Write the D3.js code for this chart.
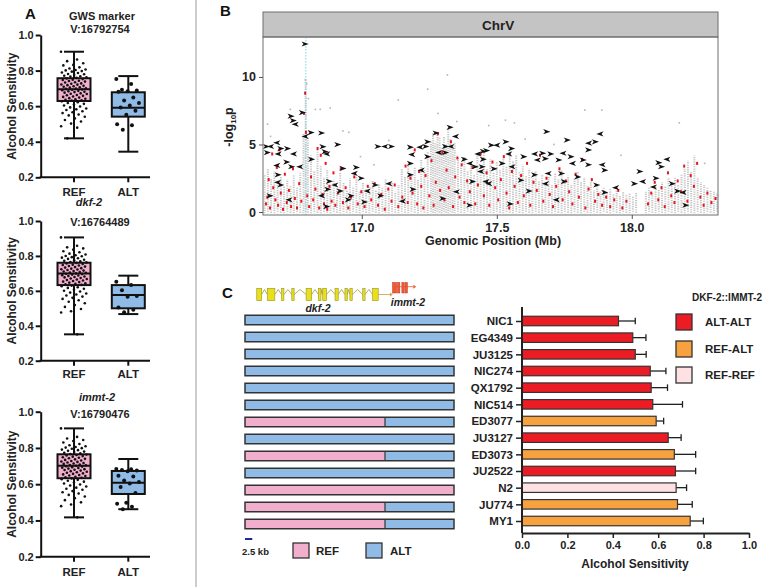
<!DOCTYPE html>
<html>
<head>
<meta charset="utf-8">
<script src="https://cdn.jsdelivr.net/npm/d3@7"></script>
<style>
  body { margin: 0; background: #fff; }
  svg { display: block; font-family: "Liberation Sans", Arial, sans-serif; font-weight: bold; }
</style>
</head>
<body>
<svg id="fig" width="768" height="587"></svg>
<script>
/// ---------- Panel A data ----------
var boxGroups = ["REF", "ALT"];
var boxTicks = [0.2, 0.4, 0.6, 0.8, 1.0];
var boxTitles = [["GWS marker", "V:16792754"], ["dkf-2", "V:16764489"], ["immt-2", "V:16790476"]];
// [min, q1, median, q3, max] for REF and ALT
var gwsStats = [[0.419, 0.629, 0.695, 0.757, 0.906], [0.344, 0.541, 0.591, 0.678, 0.769]];
var dkfStats = [[0.351, 0.633, 0.700, 0.761, 0.906], [0.467, 0.500, 0.576, 0.633, 0.687]];
var immtStats = [[0.417, 0.633, 0.702, 0.765, 0.908], [0.462, 0.546, 0.608, 0.673, 0.739]];

var gwsRef = [0.906, 0.862, 0.853, 0.841, 0.832, 0.829, 0.818, 0.812, 0.806, 0.803, 0.801, 0.797, 0.794, 0.789,
  0.786, 0.781, 0.779, 0.776, 0.771, 0.768, 0.766, 0.762, 0.759, 0.756, 0.752, 0.748, 0.747, 0.743, 0.741,
  0.738, 0.734, 0.733, 0.728, 0.726, 0.722, 0.721, 0.718, 0.714, 0.712, 0.709, 0.706, 0.704, 0.701, 0.699,
  0.697, 0.694, 0.692, 0.69, 0.686, 0.684, 0.681, 0.679, 0.676, 0.672, 0.67, 0.668, 0.663, 0.661, 0.658,
  0.654, 0.652, 0.648, 0.645, 0.642, 0.639, 0.636, 0.633, 0.631, 0.627, 0.622, 0.618, 0.613, 0.609, 0.604,
  0.598, 0.593, 0.587, 0.582, 0.578, 0.571, 0.566, 0.561, 0.553, 0.548, 0.54, 0.531, 0.522, 0.514, 0.502,
  0.487, 0.479, 0.419];
var gwsAlt = [0.752, 0.724, 0.692, 0.688, 0.684, 0.681, 0.648, 0.632, 0.618, 0.604, 0.592, 0.574, 0.552, 0.498, 0.492, 0.468];

var dkfRef = [0.906, 0.858, 0.849, 0.843, 0.836, 0.827, 0.821, 0.813, 0.808, 0.804, 0.8, 0.798, 0.793, 0.79,
  0.787, 0.783, 0.778, 0.775, 0.772, 0.769, 0.765, 0.763, 0.76, 0.757, 0.754, 0.75, 0.748, 0.745, 0.742,
  0.739, 0.736, 0.733, 0.73, 0.727, 0.724, 0.722, 0.719, 0.716, 0.713, 0.711, 0.708, 0.705, 0.703, 0.7,
  0.698, 0.696, 0.693, 0.69, 0.688, 0.685, 0.682, 0.679, 0.677, 0.674, 0.671, 0.668, 0.665, 0.662, 0.659,
  0.656, 0.653, 0.65, 0.647, 0.643, 0.64, 0.637, 0.634, 0.63, 0.626, 0.621, 0.617, 0.612, 0.607, 0.601,
  0.596, 0.59, 0.585, 0.579, 0.573, 0.567, 0.56, 0.554, 0.546, 0.538, 0.529, 0.519, 0.508, 0.496, 0.483,
  0.476, 0.351];
var dkfAlt = [0.652, 0.634, 0.603, 0.571, 0.566, 0.505, 0.492, 0.478];

var immtRef = [0.908, 0.861, 0.852, 0.844, 0.838, 0.83, 0.822, 0.815, 0.809, 0.805, 0.802, 0.799, 0.796, 0.791,
  0.788, 0.784, 0.78, 0.777, 0.773, 0.77, 0.767, 0.764, 0.761, 0.758, 0.755, 0.752, 0.749, 0.746, 0.743,
  0.74, 0.737, 0.734, 0.731, 0.728, 0.725, 0.723, 0.72, 0.717, 0.714, 0.712, 0.709, 0.706, 0.704, 0.702,
  0.699, 0.697, 0.694, 0.691, 0.689, 0.686, 0.683, 0.68, 0.678, 0.675, 0.672, 0.669, 0.666, 0.663, 0.66,
  0.657, 0.654, 0.651, 0.648, 0.645, 0.641, 0.638, 0.635, 0.632, 0.628, 0.624, 0.619, 0.614, 0.609, 0.604,
  0.598, 0.593, 0.587, 0.581, 0.575, 0.569, 0.562, 0.556, 0.549, 0.541, 0.532, 0.523, 0.512, 0.5, 0.488,
  0.479, 0.417];
var immtAlt = [0.684, 0.682, 0.678, 0.675, 0.672, 0.646, 0.642, 0.62, 0.612, 0.604, 0.584, 0.552, 0.498, 0.492, 0.476, 0.462];

/// ---------- Panel B data (position Mb, -log10p) ----------
var bTicksX = [17.0, 17.5, 18.0];
var bTicksY = [0, 5, 10];
var peakMarker = 16.7928;
// grey variant columns: [position, highest -log10p in the column]
var greyCols = [[16.640, 2.8], [16.652, 3.2], [16.664, 2.5], [16.676, 3.0], [16.688, 2.2], [16.700, 2.6], [16.712, 1.9],
  [16.724, 2.4], [16.736, 2.0], [16.748, 2.7], [16.760, 1.8], [16.772, 2.9], [16.784, 5.8], [16.792, 9.8], [16.800, 5.5],
  [16.812, 4.2], [16.824, 3.0], [16.836, 4.6], [16.848, 3.4], [16.860, 2.6], [16.872, 3.1], [16.884, 2.0], [16.896, 2.4],
  [16.908, 1.8], [16.920, 2.9], [16.932, 2.2], [16.944, 1.6], [16.956, 2.5], [16.968, 1.9], [16.980, 2.6], [16.992, 1.5],
  [17.004, 2.2], [17.016, 1.7], [17.028, 1.9], [17.040, 2.3], [17.052, 1.6], [17.064, 2.1], [17.076, 1.8], [17.088, 2.4],
  [17.100, 1.7], [17.112, 2.2], [17.124, 1.5], [17.136, 2.0], [17.148, 3.2], [17.160, 2.6], [17.172, 3.6], [17.184, 2.8],
  [17.196, 3.3], [17.208, 2.4], [17.220, 3.9], [17.232, 3.1], [17.244, 4.5], [17.256, 5.3], [17.264, 5.9], [17.272, 5.2],
  [17.280, 6.0], [17.288, 5.5], [17.296, 4.8], [17.304, 5.6], [17.312, 5.0], [17.320, 6.2], [17.328, 5.4], [17.336, 4.7],
  [17.344, 5.1], [17.356, 4.0], [17.368, 3.4], [17.380, 4.1], [17.392, 3.0], [17.404, 3.6], [17.416, 2.8], [17.428, 4.2],
  [17.440, 3.5], [17.452, 4.4], [17.464, 3.2], [17.476, 3.9], [17.488, 2.9], [17.500, 3.7], [17.512, 3.1], [17.524, 4.0],
  [17.536, 3.4], [17.548, 4.6], [17.560, 3.8], [17.572, 4.2], [17.584, 3.0], [17.596, 3.5], [17.608, 2.7], [17.620, 3.2],
  [17.632, 2.5], [17.644, 3.0], [17.656, 2.3], [17.668, 2.8], [17.680, 2.1], [17.692, 2.6], [17.704, 2.0], [17.716, 2.9],
  [17.728, 2.4], [17.740, 3.1], [17.752, 2.2], [17.764, 2.7], [17.776, 2.0], [17.788, 2.5], [17.800, 3.0], [17.812, 2.2],
  [17.824, 2.6], [17.836, 1.9], [17.848, 2.3], [17.860, 1.6], [17.872, 2.0], [17.884, 1.5], [17.896, 1.8], [17.908, 1.4],
  [17.920, 1.7], [17.932, 1.3], [17.944, 1.6], [17.956, 1.2], [17.968, 1.5], [17.980, 1.3], [17.992, 1.4], [18.004, 1.2],
  [18.016, 1.4], [18.052, 1.5], [18.064, 1.8], [18.076, 1.4], [18.088, 2.0], [18.100, 1.7], [18.112, 2.2], [18.124, 1.9],
  [18.136, 2.5], [18.148, 2.1], [18.160, 2.6], [18.172, 2.0], [18.184, 2.8], [18.196, 3.2], [18.208, 3.8], [18.220, 3.0],
  [18.232, 4.2], [18.244, 2.6], [18.256, 2.2], [18.268, 2.0], [18.280, 1.8], [18.292, 1.6], [18.304, 1.5], [18.316, 1.4]];
var greyPts = [[16.651, 6.5], [16.662, 5.6], [16.735, 7.6], [16.762, 6.4], [16.791, 9.8], [16.796, 9.5], [16.802, 8.4],
  [16.828, 7.6], [16.846, 7.6], [16.883, 7.7], [16.930, 6.0], [16.952, 5.9], [17.100, 5.3], [17.135, 8.3], [17.244, 9.1],
  [17.317, 10.15], [17.282, 7.3], [17.352, 6.7], [17.470, 6.4], [17.532, 6.8], [17.565, 6.6], [17.826, 7.55],
  [17.889, 7.55], [18.176, 6.6], [17.605, 5.4], [17.712, 5.0], [17.960, 4.2], [18.270, 3.6], [16.995, 4.1], [17.045, 3.5]];
var redPts = [[16.645, 0.6], [16.650, 1.1], [16.655, 2.4], [16.660, 0.3], [16.668, 4.3], [16.672, 1.8], [16.680, 0.9],
  [16.685, 3.3], [16.690, 0.5], [16.695, 4.6], [16.700, 1.4], [16.708, 0.2], [16.715, 2.8], [16.722, 0.7], [16.730, 1.6],
  [16.738, 0.4], [16.745, 3.2], [16.752, 1.0], [16.760, 0.3], [16.768, 2.1], [16.776, 0.8], [16.786, 7.3], [16.790, 8.8],
  [16.793, 5.9], [16.798, 1.2], [16.805, 0.4], [16.812, 2.6], [16.820, 0.9], [16.828, 1.7], [16.836, 4.7], [16.842, 0.3],
  [16.848, 4.2], [16.854, 1.3], [16.860, 0.6], [16.866, 3.6], [16.872, 0.2], [16.880, 1.9], [16.888, 0.8], [16.895, 2.9],
  [16.902, 0.5], [16.912, 1.4], [16.922, 3.2], [16.930, 0.7], [16.940, 1.8], [16.950, 0.3], [16.960, 1.1], [16.972, 2.6],
  [16.985, 0.6], [16.998, 1.5], [17.010, 0.4], [17.022, 1.9], [17.035, 0.9], [17.048, 2.1], [17.060, 0.5], [17.072, 1.3],
  [17.085, 0.2], [17.098, 1.7], [17.110, 0.8], [17.122, 2.0], [17.135, 0.4], [17.150, 1.1], [17.162, 3.4], [17.170, 0.7],
  [17.180, 2.5], [17.188, 1.4], [17.196, 4.6], [17.205, 0.6], [17.212, 3.0], [17.220, 1.9], [17.228, 0.3], [17.236, 2.7],
  [17.250, 1.2], [17.258, 3.8], [17.266, 0.5], [17.274, 2.2], [17.282, 5.8], [17.290, 1.6], [17.298, 4.4], [17.306, 0.9],
  [17.314, 3.1], [17.322, 1.8], [17.330, 5.2], [17.338, 0.4], [17.346, 2.6], [17.354, 4.0], [17.362, 1.1], [17.370, 3.5],
  [17.380, 0.7], [17.390, 2.3], [17.400, 1.5], [17.410, 3.3], [17.420, 0.6], [17.430, 2.0], [17.440, 4.3], [17.452, 1.2],
  [17.462, 2.9], [17.472, 0.5], [17.484, 3.7], [17.494, 1.8], [17.505, 0.9], [17.515, 2.4], [17.526, 4.1], [17.536, 1.4],
  [17.546, 0.3], [17.556, 3.0], [17.566, 1.9], [17.578, 0.7], [17.590, 2.7], [17.600, 1.2], [17.612, 3.6], [17.624, 0.5],
  [17.636, 2.2], [17.648, 1.6], [17.660, 4.2], [17.672, 0.8], [17.684, 2.5], [17.696, 1.3], [17.708, 0.4], [17.720, 1.9],
  [17.732, 3.2], [17.744, 0.9], [17.756, 2.3], [17.768, 1.5], [17.780, 0.6], [17.792, 2.8], [17.804, 1.1], [17.816, 3.9],
  [17.828, 0.3], [17.840, 1.7], [17.852, 2.4], [17.864, 0.8], [17.876, 1.3], [17.890, 0.5], [17.905, 1.1], [17.920, 0.4],
  [17.935, 0.9], [17.950, 1.6], [17.965, 0.3], [17.980, 0.8], [18.060, 0.6], [18.072, 1.4], [18.085, 2.2], [18.098, 0.9],
  [18.110, 1.8], [18.122, 0.4], [18.134, 2.9], [18.146, 1.2], [18.158, 0.7], [18.170, 2.3], [18.182, 1.5], [18.194, 3.4],
  [18.206, 0.8], [18.218, 2.7], [18.230, 1.9], [18.242, 3.6], [18.254, 1.1], [18.266, 0.5], [18.280, 1.4], [18.295, 0.7],
  [18.310, 1.0]];
// black arrow markers: [position, -log10p, direction]
var arrowPts = [[16.790, 12.44, 1], [16.780, 7.36, 1], [16.738, 7.10, 1], [16.746, 6.77, 1], [16.753, 6.50, -1],
  [16.812, 5.88, 1], [16.790, 5.60, -1], [16.851, 5.85, 1], [16.685, 5.13, -1], [16.647, 4.85, 1], [16.662, 4.85, -1],
  [16.700, 4.70, 1], [16.725, 4.70, 1], [16.650, 4.40, 1], [16.690, 4.30, -1], [16.747, 4.30, -1], [16.856, 4.84, 1],
  [16.864, 4.47, 1], [16.870, 4.30, -1], [16.911, 4.99, 1], [16.814, 3.90, 1], [16.685, 3.45, -1], [16.722, 3.70, 1],
  [16.740, 3.35, 1], [16.770, 3.35, -1], [16.930, 3.23, 1], [16.980, 3.30, 1], [16.972, 2.86, -1], [16.998, 2.50, 1],
  [16.690, 2.75, 1], [16.688, 2.20, -1], [16.700, 2.00, 1], [16.880, 2.27, 1], [16.900, 2.00, -1], [16.874, 1.68, 1],
  [16.920, 1.55, 1], [17.020, 1.55, -1], [17.050, 2.00, 1], [17.100, 2.10, -1], [17.070, 1.20, 1], [16.851, 1.20, -1],
  [16.960, 1.20, 1], [17.010, 0.74, 1], [16.730, 0.90, -1], [16.660, 1.20, 1], [17.060, 4.85, 1], [17.085, 4.85, -1],
  [17.110, 4.85, 1], [17.180, 4.80, 1], [17.215, 4.80, -1], [17.237, 4.85, 1], [17.185, 4.25, -1], [17.180, 3.60, 1],
  [17.244, 5.20, 1], [17.275, 5.85, 1], [17.327, 6.27, 1], [17.347, 5.60, -1], [17.310, 4.85, 1], [17.330, 4.85, -1],
  [17.244, 4.10, 1], [17.285, 4.40, -1], [17.310, 4.40, 1], [17.380, 3.90, 1], [17.400, 3.60, -1], [17.180, 2.75, 1],
  [17.220, 3.10, -1], [17.190, 1.68, 1], [17.450, 3.90, 1], [17.480, 4.95, 1], [17.430, 4.30, -1], [17.450, 4.50, 1],
  [17.420, 3.35, 1], [17.440, 3.00, -1], [17.410, 2.25, 1], [17.460, 2.25, -1], [17.400, 0.50, 1], [17.685, 5.95, 1],
  [17.761, 5.33, 1], [17.882, 5.78, -1], [17.865, 5.20, 1], [17.840, 5.10, -1], [17.534, 5.20, 1], [17.500, 4.95, -1],
  [17.555, 4.70, 1], [17.544, 4.30, -1], [17.462, 4.55, 1], [17.600, 4.10, 1], [17.640, 4.30, -1], [17.670, 4.35, 1],
  [17.700, 4.30, 1], [17.745, 4.35, -1], [17.775, 4.10, 1], [17.840, 4.60, 1], [17.520, 3.60, 1], [17.556, 3.35, -1],
  [17.446, 3.35, 1], [17.490, 3.20, 1], [17.650, 3.85, -1], [17.680, 3.95, 1], [17.730, 3.85, 1], [17.780, 3.60, -1],
  [17.820, 3.85, 1], [17.840, 3.50, 1], [17.890, 3.50, -1], [17.900, 3.10, 1], [17.740, 2.85, 1], [17.690, 2.85, -1],
  [17.640, 2.75, 1], [17.590, 2.35, 1], [17.680, 2.10, -1], [17.750, 2.25, 1], [17.800, 2.60, 1], [18.030, 3.00, 1],
  [18.010, 2.10, 1], [18.040, 2.25, -1], [18.100, 3.65, 1], [18.130, 3.90, -1], [18.110, 3.35, 1], [18.090, 2.50, 1],
  [18.080, 1.85, -1], [18.150, 2.10, 1], [18.170, 1.55, 1], [18.190, 1.45, -1], [17.900, 1.45, 1], [17.940, 1.80, -1],
  [17.870, 2.00, 1], [17.620, 1.55, 1], [17.470, 2.10, -1], [16.870, 0.40, 1], [17.150, 0.80, -1], [17.300, 1.00, 1],
  [17.550, 0.60, 1], [17.720, 0.90, -1], [18.200, 0.50, 1], [16.950, 0.90, 1], [17.350, 1.50, -1]];

/// ---------- Panel C data ----------
var strains = ["NIC1", "EG4349", "JU3125", "NIC274", "QX1792", "NIC514", "ED3077", "JU3127", "ED3073", "JU2522", "N2", "JU774", "MY1"];
var sensitivity = [0.425, 0.488, 0.499, 0.565, 0.569, 0.576, 0.591, 0.644, 0.671, 0.676, 0.679, 0.685, 0.741];
var sensitivityErr = [0.074, 0.058, 0.048, 0.069, 0.072, 0.131, 0.033, 0.057, 0.094, 0.089, 0.046, 0.065, 0.058];
var haplotype = ["ALT-ALT", "ALT-ALT", "ALT-ALT", "ALT-ALT", "ALT-ALT", "ALT-ALT", "REF-ALT", "ALT-ALT", "REF-ALT", "ALT-ALT", "REF-REF", "REF-ALT", "REF-ALT"];
var haplotypeKeys = ["ALT-ALT", "REF-ALT", "REF-REF"];
var barTicks = [0.0, 0.2, 0.4, 0.6, 0.8, 1.0];
// gene model, kb from the left end of the drawn locus
var dkfExons = [[0.6, 2.3], [4.2, 6.8], [9.1, 9.9], [12.6, 13.4], [17.5, 19.4], [21.7, 22.6], [23.2, 24.5],
  [27.4, 28.5], [30.8, 31.6], [32.5, 33.3], [36.9, 37.7], [40.3, 42.2]];
var immtExons = [[47.1, 48.5], [48.8, 49.6], [50.3, 51.1], [51.4, 52.2]];

var colors = {
  "ALT-ALT": "#ec1c24", "REF-ALT": "#f7a23f", "REF-REF": "#fde1e3",
  REF: "#f2aecd", ALT: "#8fbbe6"
};

var svg = d3.select("#fig");

/// separator between A and B/C
svg.append("line").attr("x1", 196).attr("x2", 196).attr("y1", 0).attr("y2", 587)
  .attr("stroke", "#9a9a9a").attr("stroke-width", 1);

/// ================= Panel A =================
function jitter(i) {
  // deterministic spread for the dot strip (golden-ratio sequence)
  return ((i * 0.6180339) % 1) - 0.5;
}

var aLayouts = [
  { top: 35, bot: 177.3, t1x: 102, t1y: 19.5, t2y: 32.5, laby: 196, italic: false },
  { top: 221, bot: 360.7, t1x: 89, t1y: 206, t2y: 225.5, laby: 377.5, italic: true },
  { top: 411.7, bot: 556.7, t1x: 97, t1y: 401, t2y: 418, laby: 576, italic: true }
];
var aStats = [gwsStats, dkfStats, immtStats];
var aPoints = [[gwsRef, gwsAlt], [dkfRef, dkfAlt], [immtRef, immtAlt]];

function drawBoxPanel(k) {
  var L = aLayouts[k];
  var g = svg.append("g");
  var y = d3.scaleLinear().domain([0.2, 1.0]).range([L.bot, L.top]);
  var x = d3.scalePoint().domain(boxGroups).range([74, 128.3]);
  var axX = 40.7;

  // y axis
  var yAxis = d3.axisLeft(y).tickValues(boxTicks).tickFormat(d3.format(".1f")).tickSize(5).tickSizeOuter(0);
  var ya = g.append("g").attr("transform", "translate(" + axX + ",0)").call(yAxis);
  ya.select(".domain").attr("stroke", "#111").attr("stroke-width", 2);
  ya.selectAll(".tick line").attr("stroke", "#111").attr("stroke-width", 2);
  ya.selectAll(".tick text").attr("font-size", 11).attr("font-weight", "bold").attr("fill", "#222")
    .attr("font-family", "Liberation Sans, Arial, sans-serif").attr("x", -7);

  // x axis
  g.append("line").attr("x1", axX - 1).attr("x2", 150).attr("y1", L.bot).attr("y2", L.bot)
    .attr("stroke", "#111").attr("stroke-width", 2);
  boxGroups.forEach(function (grp) {
    g.append("line").attr("x1", x(grp)).attr("x2", x(grp)).attr("y1", L.bot).attr("y2", L.bot + 5)
      .attr("stroke", "#111").attr("stroke-width", 2);
    g.append("text").attr("x", x(grp)).attr("y", L.laby).attr("text-anchor", "middle")
      .attr("font-size", 11.5).attr("fill", "#222").text(grp);
  });

  // titles
  g.append("text").attr("x", L.t1x).attr("y", L.t1y).attr("text-anchor", "middle")
    .attr("font-size", 11).attr("font-style", L.italic ? "italic" : "normal").attr("fill", "#222")
    .text(boxTitles[k][0]);
  g.append("text").attr("x", 100).attr("y", L.t2y).attr("text-anchor", "middle")
    .attr("font-size", 11).attr("fill", "#222").text(boxTitles[k][1]);

  // y label
  g.append("text").attr("transform", "translate(16," + ((L.top + L.bot) / 2) + ")rotate(-90)")
    .attr("text-anchor", "middle").attr("font-size", 12).attr("fill", "#222").text("Alcohol Sensitivity");

  boxGroups.forEach(function (grp, gi) {
    var s = aStats[k][gi];
    var cx = x(grp);
    var bw = 33, cap = 20;
    // whisker
    g.append("line").attr("x1", cx).attr("x2", cx).attr("y1", y(s[0])).attr("y2", y(s[4]))
      .attr("stroke", "#111").attr("stroke-width", 2);
    [s[0], s[4]].forEach(function (v) {
      g.append("line").attr("x1", cx - cap / 2).attr("x2", cx + cap / 2).attr("y1", y(v)).attr("y2", y(v))
        .attr("stroke", "#111").attr("stroke-width", 2);
    });
    g.append("rect").attr("x", cx - bw / 2).attr("width", bw).attr("y", y(s[3])).attr("height", y(s[1]) - y(s[3]))
      .attr("fill", colors[grp]).attr("stroke", "#111").attr("stroke-width", 2);
    // dots
    var pts = aPoints[k][gi];
    var spread = gi === 0 ? 26 : 24;
    g.selectAll(null).data(pts).enter().append("circle")
      .attr("cx", function (d, i) { return cx + jitter(i) * spread; })
      .attr("cy", function (d) { return y(d); })
      .attr("r", gi === 0 ? 1.3 : 2)
      .attr("fill", "#111");
    g.append("line").attr("x1", cx - bw / 2).attr("x2", cx + bw / 2).attr("y1", y(s[2])).attr("y2", y(s[2]))
      .attr("stroke", "#111").attr("stroke-width", 2);
  });
}
[0, 1, 2].forEach(drawBoxPanel);

svg.append("text").attr("x", 25).attr("y", 19).attr("font-size", 15).attr("fill", "#111").text("A");

/// ================= Panel B =================
var bLeft = 263, bRight = 718, bTop = 37, bBot = 215;
var bx = d3.scaleLinear().domain([16.634, 18.3193]).range([bLeft, bRight]);
var by = d3.scaleLinear().domain([-0.222, 12.96]).range([bBot, bTop]);

svg.append("text").attr("x", 220).attr("y", 16).attr("font-size", 15).attr("fill", "#111").text("B");

// strip
svg.append("rect").attr("x", bLeft).attr("y", 12).attr("width", bRight - bLeft).attr("height", bTop - 12)
  .attr("fill", "#c4c4c4").attr("stroke", "#6e6e6e").attr("stroke-width", 1);
svg.append("text").attr("x", 482).attr("y", 29.5).attr("font-size", 13.5).attr("fill", "#222").text("ChrV");

var clip = svg.append("clipPath").attr("id", "bclip");
clip.append("rect").attr("x", bLeft).attr("y", bTop).attr("width", bRight - bLeft).attr("height", bBot - bTop);
var plot = svg.append("g").attr("clip-path", "url(#bclip)");

plot.selectAll(null).data(greyCols).enter().append("line")
  .attr("x1", function (d) { return bx(d[0]); })
  .attr("x2", function (d) { return bx(d[0]); })
  .attr("y1", by(-0.1))
  .attr("y2", function (d) { return by(d[1]); })
  .attr("stroke", "#c4c4c4").attr("stroke-width", 2)
  .attr("stroke-dasharray", "1.2,1.1")
  .attr("stroke-dashoffset", function (d, i) { return (i % 3) * 0.8; });

plot.selectAll(null).data(greyPts).enter().append("rect")
  .attr("x", function (d) { return bx(d[0]) - 0.8; })
  .attr("y", function (d) { return by(d[1]) - 0.8; })
  .attr("width", 1.6).attr("height", 1.6).attr("fill", "#b4b4b4");

plot.append("line").attr("x1", bx(peakMarker)).attr("x2", bx(peakMarker)).attr("y1", bTop).attr("y2", bBot)
  .attr("stroke", "#7fd3e3").attr("stroke-width", 1).attr("stroke-dasharray", "1.5,1.5");

plot.selectAll(null).data(redPts).enter().append("rect")
  .attr("x", function (d) { return bx(d[0]) - 1; })
  .attr("y", function (d) { return by(d[1]) - 1.5; })
  .attr("width", 2).attr("height", 3).attr("fill", "#e8141c");

plot.selectAll(null).data(arrowPts).enter().append("path")
  .attr("transform", function (d) {
    return "translate(" + bx(d[0]) + "," + by(d[1]) + ")scale(" + d[2] + ",1)";
  })
  .attr("d", "M-3.6,-2.6L3.6,0L-3.6,2.6L-1.6,0Z")
  .attr("fill", "#111");

svg.append("rect").attr("x", bLeft).attr("y", bTop).attr("width", bRight - bLeft).attr("height", bBot - bTop)
  .attr("fill", "none").attr("stroke", "#6e6e6e").attr("stroke-width", 1);

var bxAxis = d3.axisBottom(bx).tickValues(bTicksX).tickFormat(d3.format(".1f")).tickSize(4).tickSizeOuter(0);
var bxa = svg.append("g").attr("transform", "translate(0," + bBot + ")").call(bxAxis);
bxa.select(".domain").remove();
bxa.selectAll(".tick line").attr("stroke", "#555");
bxa.selectAll(".tick text").attr("font-size", 12.5).attr("font-weight", "bold").attr("fill", "#222")
  .attr("font-family", "Liberation Sans, Arial, sans-serif").attr("y", 8);

var byAxis = d3.axisLeft(by).tickValues(bTicksY).tickSize(4).tickSizeOuter(0);
var bya = svg.append("g").attr("transform", "translate(" + bLeft + ",0)").call(byAxis);
bya.select(".domain").remove();
bya.selectAll(".tick line").attr("stroke", "#555");
bya.selectAll(".tick text").attr("font-size", 12.5).attr("font-weight", "bold").attr("fill", "#222")
  .attr("font-family", "Liberation Sans, Arial, sans-serif").attr("x", -7);

svg.append("text").attr("x", 493).attr("y", 245).attr("text-anchor", "middle")
  .attr("font-size", 12.5).attr("fill", "#222").text("Genomic Position (Mb)");

var ylab = svg.append("text").attr("transform", "translate(233,127)rotate(-90)")
  .attr("text-anchor", "middle").attr("font-size", 12.5).attr("fill", "#222");
ylab.append("tspan").text("-log");
ylab.append("tspan").attr("font-size", 8).attr("dy", 3).text("10");
ylab.append("tspan").attr("dy", -3).text("p");

/// ================= Panel C =================
svg.append("text").attr("x", 222).attr("y", 298).attr("font-size", 15).attr("fill", "#111").text("C");

// gene model
var kb = d3.scaleLinear().domain([0, 2.5]).range([255, 262.3]);
var gm = svg.append("g");
var dkfMid = 294.5;
for (var i = 0; i < dkfExons.length - 1; i++) {
  var a = kb(dkfExons[i][1]), b = kb(dkfExons[i + 1][0]);
  gm.append("path")
    .attr("d", "M" + a + "," + dkfMid + "L" + ((a + b) / 2) + "," + (dkfMid - 5) + "L" + b + "," + dkfMid)
    .attr("fill", "none").attr("stroke", "#a29a3a").attr("stroke-width", 0.8);
}
gm.append("line").attr("x1", kb(dkfExons[dkfExons.length - 1][1])).attr("x2", kb(46.2))
  .attr("y1", dkfMid).attr("y2", dkfMid).attr("stroke", "#c8a040").attr("stroke-width", 0.8);
gm.append("path").attr("d", "M" + kb(46.2) + "," + (dkfMid - 2) + "L" + (kb(46.2) + 3) + "," + dkfMid + "L" + kb(46.2) + "," + (dkfMid + 2) + "Z")
  .attr("fill", "#d9a040");
gm.selectAll(null).data(dkfExons).enter().append("rect")
  .attr("x", function (d) { return kb(d[0]); })
  .attr("width", function (d) { return kb(d[1]) - kb(d[0]); })
  .attr("y", 288.3).attr("height", 12.4)
  .attr("fill", "#e8e01a").attr("stroke", "#9c9426").attr("stroke-width", 0.6);

var immtMid = 286.7;
gm.append("line").attr("x1", kb(47.1)).attr("x2", kb(54.2)).attr("y1", immtMid).attr("y2", immtMid)
  .attr("stroke", "#e8603a").attr("stroke-width", 0.8);
gm.append("path").attr("d", "M" + kb(54.2) + "," + (immtMid - 2) + "L" + (kb(54.2) + 3) + "," + immtMid + "L" + kb(54.2) + "," + (immtMid + 2) + "Z")
  .attr("fill", "#e8603a");
gm.selectAll(null).data(immtExons).enter().append("rect")
  .attr("x", function (d) { return kb(d[0]); })
  .attr("width", function (d) { return kb(d[1]) - kb(d[0]); })
  .attr("y", 282.5).attr("height", 10.5)
  .attr("fill", "#ef5a32").attr("stroke", "#c03a20").attr("stroke-width", 0.5);

gm.append("text").attr("x", 318).attr("y", 312).attr("text-anchor", "middle").attr("font-size", 10.5)
  .attr("font-style", "italic").attr("fill", "#222").text("dkf-2");
gm.append("text").attr("x", 408).attr("y", 305.5).attr("text-anchor", "middle").attr("font-size", 10.5)
  .attr("font-style", "italic").attr("fill", "#222").text("immt-2");

// haplotype bars
var hy = d3.scalePoint().domain(strains).range([320, 524]);
var hapLeft = 245, hapSplit = 385, hapRight = 454, hapH = 9.5;
var hap = svg.append("g");
strains.forEach(function (s, i) {
  var parts = haplotype[i].split("-");
  var cy = hy(s);
  hap.append("rect").attr("x", hapLeft).attr("width", hapSplit - hapLeft).attr("y", cy - hapH / 2).attr("height", hapH)
    .attr("fill", colors[parts[0]]);
  hap.append("rect").attr("x", hapSplit).attr("width", hapRight - hapSplit).attr("y", cy - hapH / 2).attr("height", hapH)
    .attr("fill", colors[parts[1]]);
  if (parts[0] !== parts[1]) {
    hap.append("line").attr("x1", hapSplit).attr("x2", hapSplit).attr("y1", cy - hapH / 2).attr("y2", cy + hapH / 2)
      .attr("stroke", "#333").attr("stroke-width", 1.2);
  }
  hap.append("rect").attr("x", hapLeft).attr("width", hapRight - hapLeft).attr("y", cy - hapH / 2).attr("height", hapH)
    .attr("fill", "none").attr("stroke", "#333").attr("stroke-width", 1.5);
});

// scale bar + REF/ALT legend
svg.append("line").attr("x1", kb(0) - 10).attr("x2", kb(2.5) - 10).attr("y1", 539).attr("y2", 539)
  .attr("stroke", "#1e2a9a").attr("stroke-width", 2);
svg.append("text").attr("x", 242).attr("y", 555).attr("font-size", 9.5).attr("fill", "#222").text("2.5 kb");
[["REF", 293, 316], ["ALT", 366, 390]].forEach(function (d) {
  svg.append("rect").attr("x", d[1]).attr("y", 543).attr("width", 16).attr("height", 15)
    .attr("fill", colors[d[0]]).attr("stroke", "#333").attr("stroke-width", 1.3);
  svg.append("text").attr("x", d[2]).attr("y", 555).attr("font-size", 11.5).attr("fill", "#222").text(d[0]);
});

// bar chart
var cx0 = 522, cx1 = 749, cyBase = 533;
var cxs = d3.scaleLinear().domain([0, 1]).range([cx0, cx1]);
var cys = d3.scalePoint().domain(strains).range([321, 521]);
var barH = 9.5;
var bars = svg.append("g");
strains.forEach(function (s, i) {
  var cy = cys(s);
  var v = sensitivity[i], e = sensitivityErr[i];
  bars.append("line").attr("x1", cxs(v)).attr("x2", cxs(v + e)).attr("y1", cy).attr("y2", cy)
    .attr("stroke", "#222").attr("stroke-width", 1.3);
  bars.append("line").attr("x1", cxs(v + e)).attr("x2", cxs(v + e)).attr("y1", cy - 3.3).attr("y2", cy + 3.3)
    .attr("stroke", "#222").attr("stroke-width", 1.3);
  bars.append("rect").attr("x", cxs(0)).attr("width", cxs(v) - cxs(0)).attr("y", cy - barH / 2).attr("height", barH)
    .attr("fill", colors[haplotype[i]]).attr("stroke", "#333").attr("stroke-width", 1.2);
});

var cyAxis = d3.axisLeft(cys).tickSize(6).tickSizeOuter(0);
var cya = svg.append("g").attr("transform", "translate(" + cx0 + ",0)").call(cyAxis);
cya.select(".domain").remove();
cya.selectAll(".tick line").attr("stroke", "#222").attr("stroke-width", 1.5);
cya.selectAll(".tick text").attr("font-size", 11.5).attr("font-weight", "bold").attr("fill", "#222")
  .attr("font-family", "Liberation Sans, Arial, sans-serif").attr("x", -9);
svg.append("line").attr("x1", cx0).attr("x2", cx0).attr("y1", 307).attr("y2", cyBase)
  .attr("stroke", "#222").attr("stroke-width", 2);

var cxAxis = d3.axisBottom(cxs).tickValues(barTicks).tickFormat(d3.format(".1f")).tickSize(5).tickSizeOuter(0);
var cxa = svg.append("g").attr("transform", "translate(0," + cyBase + ")").call(cxAxis);
cxa.select(".domain").attr("stroke", "#222").attr("stroke-width", 2);
cxa.selectAll(".tick line").attr("stroke", "#222").attr("stroke-width", 1.5);
cxa.selectAll(".tick text").attr("font-size", 11).attr("font-weight", "bold").attr("fill", "#222")
  .attr("font-family", "Liberation Sans, Arial, sans-serif").attr("y", 8);

svg.append("text").attr("x", 635).attr("y", 567.5).attr("text-anchor", "middle").attr("font-size", 12)
  .attr("fill", "#222").text("Alcohol Sensitivity");

// legend
svg.append("text").attr("x", 692).attr("y", 301).attr("font-size", 10).attr("font-weight", 600)
  .attr("fill", "#222").text("DKF-2::IMMT-2");
haplotypeKeys.forEach(function (k, i) {
  var ly = [314, 341, 367][i];
  svg.append("rect").attr("x", 676).attr("y", ly).attr("width", 16).attr("height", 16)
    .attr("fill", colors[k]).attr("stroke", "#333").attr("stroke-width", 1.3);
  svg.append("text").attr("x", 705).attr("y", ly + 12).attr("font-size", 11.5).attr("fill", "#222").text(k);
});
</script>
</body>
</html>
